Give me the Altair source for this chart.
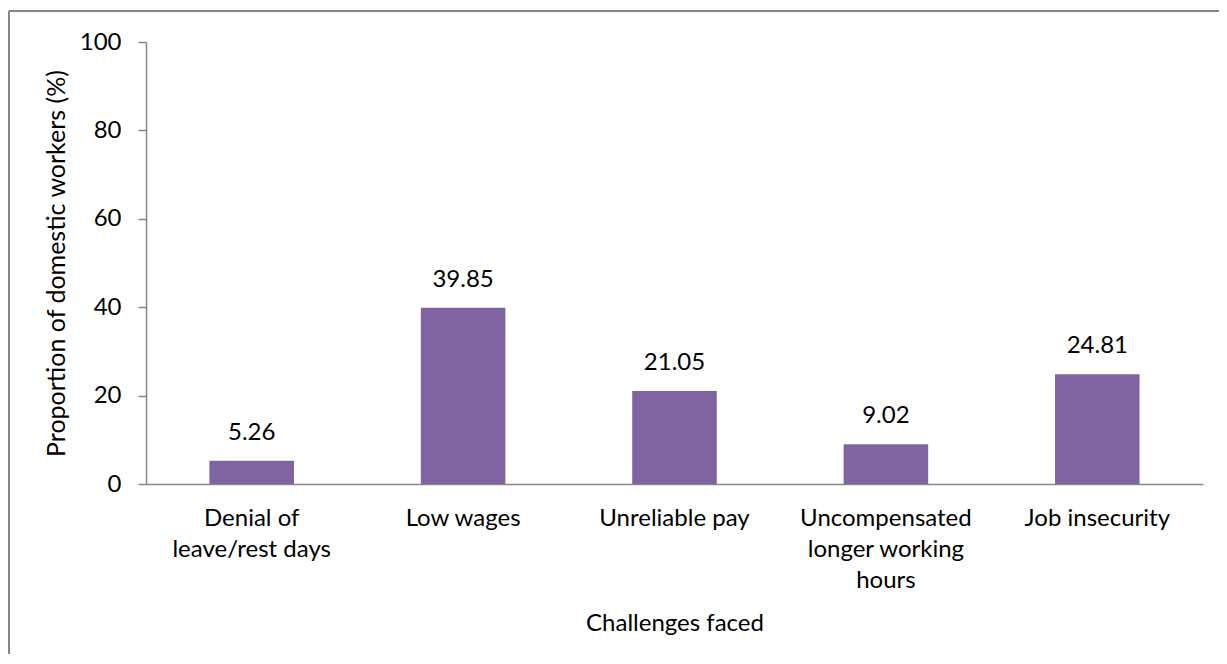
import altair as alt
import pandas as pd

categories = ["Denial of leave/rest days", "Low wages", "Unreliable pay",
              "Uncompensated longer working hours", "Job insecurity"]
label_lines = [["Denial of", "leave/rest days"], ["Low wages"], ["Unreliable pay"],
               ["Uncompensated", "longer working", "hours"], ["Job insecurity"]]
values = [5.26, 39.85, 21.05, 9.02, 24.81]
value_text = ["5.26", "39.85", "21.05", "9.02", "24.81"]

df = pd.DataFrame({"cat": categories, "val": values, "txt": value_text})

expr = ""
for c, lines in zip(categories, label_lines):
    arr = "[" + ",".join("'" + l + "'" for l in lines) + "]"
    expr += f"datum.label == '{c}' ? {arr} : "
expr += "datum.label"

FONT = "Lato"
FS = 24
GRAY = "#868686"
W, H = 1057, 442

base = alt.Chart(df)

bars = base.mark_bar(color="#8064A2").encode(
    x=alt.X("cat:N", sort=categories,
            scale=alt.Scale(paddingInner=0.6, paddingOuter=0.3),
            axis=alt.Axis(title="Challenges faced", labelAngle=0, labelExpr=expr,
                          labelLineHeight=31, labelBaseline="top", labelPadding=22,
                          ticks=False, domainColor=GRAY, domainWidth=1.5,
                          titlePadding=19)),
    y=alt.Y("val:Q", scale=alt.Scale(domain=[0, 100]),
            axis=alt.Axis(title="Proportion of domestic workers (%)", values=[0, 20, 40, 60, 80, 100],
                          grid=False, tickSize=8, tickColor=GRAY, tickWidth=1.5,
                          domainColor=GRAY, domainWidth=1.5, labelPadding=17,
                          titlePadding=10, titleFontSize=25)),
)

labels = base.mark_text(font=FONT, fontSize=FS, color="black", baseline="middle", dy=-28).encode(
    x=alt.X("cat:N", sort=categories),
    y="val:Q",
    text="txt:N",
)

border_left = alt.Chart(df).mark_rule(color=GRAY, strokeWidth=2).encode(
    x=alt.value(-137), y=alt.value(-31), y2=alt.value(H + 200)
)
border_top = alt.Chart(df).mark_rule(color=GRAY, strokeWidth=2).encode(
    x=alt.value(-137), x2=alt.value(W + 60), y=alt.value(-31)
)

chart = alt.layer(bars, labels, border_left, border_top).properties(
    width=W, height=H,
    autosize=alt.AutoSizeParams(type="none"),
    padding={"left": 138, "top": 34, "right": 16, "bottom": 170},
).configure_view(stroke=None).configure_axis(
    labelFont=FONT, titleFont=FONT, labelFontSize=FS, titleFontSize=FS,
    labelColor="black", titleColor="black", titleFontWeight="normal",
)

chart.save("out.html", embed_options={"renderer": "svg", "actions": False})
